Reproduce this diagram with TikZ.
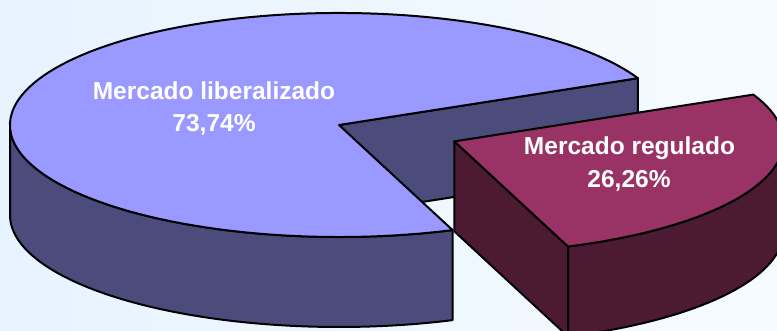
\documentclass[tikz,border=0pt]{standalone}
\usepackage{fontspec}
\setmainfont{Liberation Sans}
\usetikzlibrary{calc}
\definecolor{bgL}{RGB}{230,243,255}
\definecolor{bgR}{RGB}{246,251,255}
\definecolor{bigtop}{RGB}{153,153,255}
\definecolor{bigside}{RGB}{76,76,124}
\definecolor{redtop}{RGB}{153,51,102}
\definecolor{redside}{RGB}{77,26,51}
\begin{document}
\begin{tikzpicture}[x=1pt,y=1pt,line join=round,
  outline/.style={draw=black,line width=2pt},
  lbl/.style={text=white,font=\fontsize{24.5}{30}\selectfont\bfseries,inner sep=0pt,anchor=base}]
\useasboundingbox (0,0) rectangle (777,331);
\clip (0,0) rectangle (777,331);
\shade[left color=bgL,right color=bgR] (0,0) rectangle (777,331);
\def\rx{329pt}\def\ry{112pt}\def\dep{90}
\def\ta{24.7}\def\tb{-69.8}\def\tbb{290.2}
% big slice
\coordinate (C) at (339,206);
\coordinate (Cd) at (339,116);
\coordinate (P1) at ($(C)+(24.7:329pt and 112pt)$);
\coordinate (P2) at ($(C)+(-69.8:329pt and 112pt)$);
\coordinate (L) at ($(C)+(180:329pt and 112pt)$);
\draw[outline,fill=bigside] (L) arc[start angle=180,end angle=\tbb,x radius=\rx,y radius=\ry]
  -- ++(0,-\dep) arc[start angle=\tbb,end angle=180,x radius=\rx,y radius=\ry] -- cycle;
\draw[outline,fill=bigside] (C) -- (P1) -- ++(0,-\dep) -- (Cd) -- cycle;
\draw[outline,fill=bigtop] (C) -- (P1) arc[start angle=\ta,end angle=\tbb,x radius=\rx,y radius=\ry] -- cycle;
% red slice
\coordinate (R) at (454.4,189.6);
\coordinate (Rd) at (454.4,99.6);
\coordinate (Q1) at ($(R)+(24.7:329pt and 112pt)$);
\coordinate (Q2) at ($(R)+(-69.8:329pt and 112pt)$);
\draw[outline,fill=redside] (Q2) arc[start angle=\tb,end angle=0,x radius=\rx,y radius=\ry]
  -- ++(0,-\dep) arc[start angle=0,end angle=\tb,x radius=\rx,y radius=\ry] -- cycle;
\draw[outline,fill=redside] (R) -- (Q2) -- ++(0,-\dep) -- (Rd) -- cycle;
\draw[outline,fill=redtop] (R) -- (Q2) arc[start angle=\tb,end angle=\ta,x radius=\rx,y radius=\ry] -- cycle;
% labels
\node[lbl] (lib1) at (214,231) {Mercado liberalizado};
\node[lbl] (lib2) at (214,199) {73,74\%};
\node[lbl] (reg1) at (629.5,176) {Mercado regulado};
\node[lbl] (reg2) at (629,143) {26,26\%};
\end{tikzpicture}
\end{document}
